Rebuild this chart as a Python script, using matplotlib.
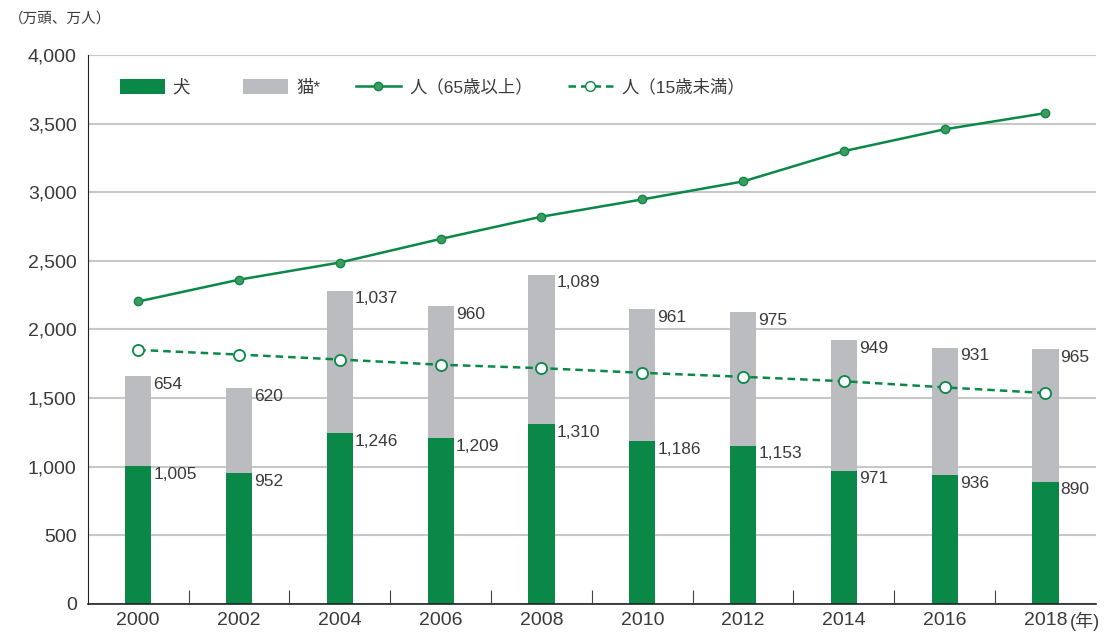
import matplotlib.pyplot as plt
import numpy as np
from matplotlib.patches import Patch
from matplotlib.lines import Line2D

plt.rcParams['font.family'] = ['Liberation Sans', 'Noto Sans CJK JP', 'DejaVu Sans']

years = ['2000', '2002', '2004', '2006', '2008', '2010', '2012', '2014', '2016', '2018']
dogs = [1005, 952, 1246, 1209, 1310, 1186, 1153, 971, 936, 890]
cats = [654, 620, 1037, 960, 1089, 961, 975, 949, 931, 965]
elderly = [2204, 2363, 2488, 2660, 2822, 2948, 3079, 3300, 3459, 3577]
children = [1851, 1817, 1781, 1743, 1718, 1684, 1655, 1623, 1578, 1537]

green = '#0a8848'
gray = '#bbbcbf'
text_col = '#3a3a3a'

fig = plt.figure(figsize=[11.12, 6.33], dpi=100)
ax = fig.add_axes([0.079, 0.046, 0.9065, 0.867])

x = np.arange(len(years))
w = 0.26
ax.bar(x, dogs, w, color=green, zorder=2)
ax.bar(x, cats, w, bottom=dogs, color=gray, zorder=2)

ax.plot(x, elderly, color=green, linewidth=1.8, marker='o', markersize=6,
        markerfacecolor='#3f9c5f', markeredgecolor=green, zorder=3)
ax.plot(x, children, color=green, linewidth=1.8, linestyle=(0, (3, 2)), marker='o', markersize=8,
        markerfacecolor='white', markeredgecolor=green, markeredgewidth=1.3, zorder=3)

for i in range(len(years)):
    ax.text(x[i] + w / 2 + 0.02, dogs[i] - 5, f'{dogs[i]:,}', ha='left', va='top',
            fontsize=12.5, color=text_col, zorder=4)
    ax.text(x[i] + w / 2 + 0.02, dogs[i] + cats[i] - 5, f'{cats[i]:,}', ha='left', va='top',
            fontsize=12.5, color=text_col, zorder=4)

ax.set_xlim(-0.5, len(years) - 0.5)
ax.set_ylim(0, 4000)
ax.set_yticks(np.arange(0, 4001, 500))
ax.set_yticklabels([f'{v:,}' for v in range(0, 4001, 500)])
ax.set_xticks(x)
ax.set_xticklabels(years)
ax.set_xticks(np.arange(0.5, len(years) - 1, 1), minor=True)
ax.tick_params(axis='x', which='major', length=0, labelsize=14, labelcolor=text_col, pad=6)
ax.tick_params(axis='x', which='minor', direction='in', length=10, color='#444444', width=0.8)
ax.tick_params(axis='y', length=0, labelsize=14, labelcolor=text_col, pad=8)

ax.grid(axis='y', color='#c8c8c8', linewidth=1.5, zorder=0)
ax.set_axisbelow(True)
for s in ['top', 'right']:
    ax.spines[s].set_visible(False)
ax.spines['left'].set_color('#222222')
ax.spines['bottom'].set_color('#222222')
ax.spines['bottom'].set_linewidth(1.2)

handles = [
    Patch(facecolor=green, label='犬\u3000'),
    Patch(facecolor=gray, label='猫*'),
    Line2D([], [], color=green, linewidth=1.8, marker='o', markersize=6,
           markerfacecolor='#3f9c5f', markeredgecolor=green, label='人（65歳以上）'),
    Line2D([], [], color=green, linewidth=1.8, linestyle=(0, (3, 2)), marker='o', markersize=7,
           markerfacecolor='white', markeredgecolor=green, label='人（15歳未満）'),
]
leg = ax.legend(handles=handles, ncol=4, loc='upper left', bbox_to_anchor=(0.016, 0.985),
                frameon=False, fontsize=12.5, handlelength=2.6, handleheight=1.0,
                columnspacing=2.0, handletextpad=0.5)
for t in leg.get_texts():
    t.set_color(text_col)

fig.text(0.008, 0.97, '（万頭、万人）', fontsize=10.5, color=text_col, ha='left', va='center')
fig.text(0.962, 0.018, '(年)', fontsize=13, color=text_col, ha='left', va='center')

plt.savefig('out.png')
